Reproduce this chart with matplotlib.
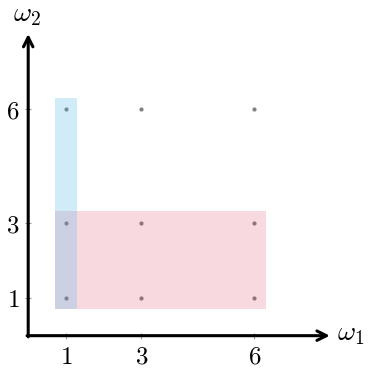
import matplotlib
matplotlib.use("Agg")
import matplotlib.pyplot as plt
from matplotlib.patches import Rectangle

plt.rcParams['mathtext.fontset'] = 'cm'

# grid of sample points
w1_vals = [1, 3, 6]
w2_vals = [1, 3, 6]
x_ticks = [1, 3, 6]
y_ticks = [1, 3, 6]

# shaded boxes: (x0, y0, x1, y1)
pink_box = (0.7, 0.7, 6.3, 3.3)
blue_box = (0.7, 0.7, 1.3, 6.3)
axis_end = 8

fig = plt.figure(figsize=(3.69, 3.70), dpi=100)
ax = fig.add_axes([0, 0, 1, 1])
ax.set_xlim(-0.748, 9.04)
ax.set_ylim(-0.91, 8.90)

# dots (under the transparent boxes)
for y in w2_vals:
    ax.scatter(w1_vals, [y] * len(w1_vals), s=9, color='#808080', zorder=1, linewidths=0)

def box(b, color, alpha, z):
    x0, y0, x1, y1 = b
    ax.add_patch(Rectangle((x0, y0), x1 - x0, y1 - y0, facecolor=color,
                           alpha=alpha, edgecolor='none', zorder=z))

box(pink_box, '#dc415f', 0.2, 2)
box(blue_box, '#47b7eb', 0.25, 3)

# axes with arrows
arrow = dict(arrowstyle='->', lw=2.2, color='black', mutation_scale=17,
             shrinkA=0, shrinkB=0)
ax.annotate('', xy=(axis_end, 0), xytext=(-0.03, 0), arrowprops=arrow, zorder=5)
ax.annotate('', xy=(0, axis_end), xytext=(0, -0.03), arrowprops=arrow, zorder=5)

for s in ax.spines.values():
    s.set_visible(False)
ax.spines['left'].set_position(('data', 0))
ax.spines['bottom'].set_position(('data', 0))
ax.set_xticks(x_ticks)
ax.set_yticks(y_ticks)
ax.set_xticklabels([f'${t}$' for t in x_ticks], fontsize=18)
ax.set_yticklabels([f'${t}$' for t in y_ticks], fontsize=18)
ax.tick_params(direction='inout', length=5, width=0.8, color='#999999', pad=4)

ax.text(8.2, 0.07, r'$\omega_1$', fontsize=20, ha='left', va='center')
ax.text(-0.03, 8.52, r'$\omega_2$', fontsize=20, ha='center', va='center')

fig.savefig('out.png', dpi=100)
